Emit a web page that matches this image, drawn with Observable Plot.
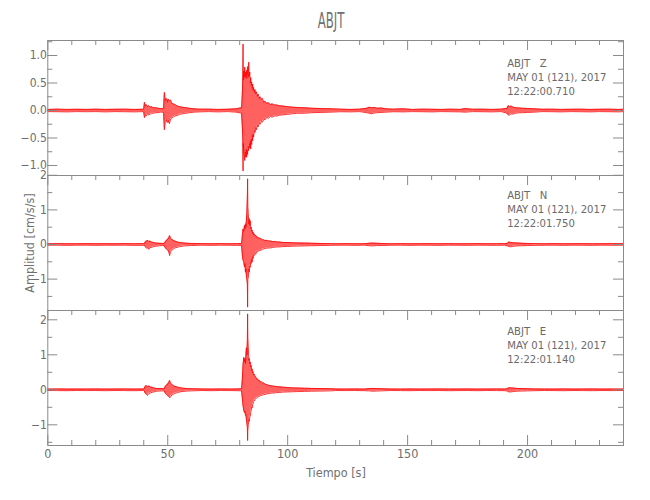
<!DOCTYPE html>
<html>
<head>
<meta charset="utf-8">
<script src="https://cdn.jsdelivr.net/npm/d3@7"></script>
<script src="https://cdn.jsdelivr.net/npm/@observablehq/plot@0.6"></script>
<style>
  body { margin: 0; background: #fff; }
  #wrap { position: relative; width: 650px; height: 500px; overflow: hidden; color: #707070;
          font-family: "Liberation Sans Narrow", "DejaVu Sans Condensed", sans-serif; }
  .panel { position: absolute; left: 0; }
  #title { position: absolute; left: 231px; width: 200px; top: 9px; text-align: center;
           font-size: 21px; transform: scaleX(0.62); }
  #xlab { position: absolute; left: 236px; width: 200px; top: 465px; text-align: center; font-size: 12.5px; }
  #ylab { position: absolute; left: 29px; top: 242.5px; font-size: 12.5px; white-space: nowrap;
          transform: translate(-50%, -50%) rotate(-90deg); }
</style>
</head>
<body>
<div id="wrap">
  <div id="title">ABJT</div>
  <div id="ylab">Amplitud [cm/s/s]</div>
  <div id="xlab">Tiempo [s]</div>
</div>
<script>
// ---------------- data ----------------
const station = "ABJT";
const components = ["Z", "N", "E"];
const dateLine = "MAY 01 (121), 2017";
const startTimes = ["12:22:00.710", "12:22:01.750", "12:22:01.140"];

const xMajorTicks = [0, 50, 100, 150, 200];
const xMinorTicks = [10, 20, 30, 40, 60, 70, 80, 90, 110, 120, 130, 140, 160, 170, 180, 190, 210, 220, 230];

// Z component (envelope: upper / lower amplitude, cm/s/s)
const zTime = [0, 4, 8, 12, 16, 20, 24, 28, 32, 36, 39.8,
  40.0, 40.3, 40.6, 41.0, 41.5, 42.0, 42.6, 43.2, 44.0, 45.0, 46.0, 47.0, 48.0,
  48.3, 48.6, 49.0, 49.4, 49.8, 50.2, 50.7, 51.2, 51.7, 52.3, 53.0, 54.0, 55.0, 56.0, 57.5, 59.0, 61.0, 63.0,
  67, 71, 75, 78.5,
  80.8, 81.1, 81.3, 81.4, 81.5, 81.7, 81.9, 82.1, 82.3, 82.5, 82.7, 82.9, 83.1, 83.3, 83.5, 83.75, 84.0, 84.2, 84.4, 84.6,
  84.8, 85.0, 85.2, 85.4, 85.6, 85.8, 86.1, 86.4, 86.7, 87.0, 87.3, 87.7, 88.1, 88.5, 89.0, 89.5, 90.0, 90.6, 91.2, 92.0,
  92.8, 93.6, 94.5, 95.5, 96.5, 98.0, 100.0, 102.0, 104.0, 107.0, 110.0, 114.0, 118.0,
  122, 126, 130,
  133.0, 134.0, 135.0, 136.0, 137.5, 139.0, 141.0,
  144, 148, 152, 156, 160, 164, 168, 172, 174, 177, 181, 185, 189,
  191.5, 192.0, 192.5, 193.2, 194.0, 195.0, 196.5, 198.0, 200.0, 203.0,
  206, 210, 214, 218, 222, 226, 230, 234, 238, 240];
const zHi = [0.02, 0.025, 0.02, 0.022, 0.02, 0.025, 0.02, 0.022, 0.025, 0.02, 0.022,
  0.03, 0.15, 0.08, 0.11, 0.07, 0.09, 0.06, 0.07, 0.05, 0.05, 0.04, 0.035, 0.03,
  0.05, 0.33, 0.18, 0.22, 0.15, 0.21, 0.17, 0.19, 0.13, 0.12, 0.11, 0.08, 0.07, 0.06, 0.05, 0.04, 0.03, 0.025,
  0.025, 0.02, 0.022, 0.03,
  0.05, 0.3, 0.6, 1.21, 0.55, 0.72, 0.6, 0.79, 0.62, 0.7, 0.58, 0.73, 0.65, 0.8, 0.6, 0.88, 0.62, 0.7, 0.5, 0.6,
  0.45, 0.52, 0.4, 0.48, 0.36, 0.42, 0.33, 0.38, 0.3, 0.34, 0.26, 0.3, 0.22, 0.25, 0.2, 0.22, 0.15, 0.17, 0.13, 0.14,
  0.11, 0.12, 0.1, 0.1, 0.085, 0.08, 0.07, 0.06, 0.055, 0.05, 0.04, 0.035, 0.03,
  0.025, 0.02, 0.025,
  0.04, 0.06, 0.05, 0.055, 0.04, 0.045, 0.03,
  0.025, 0.03, 0.02, 0.025, 0.022, 0.02, 0.025, 0.02, 0.035, 0.022, 0.025, 0.02, 0.025,
  0.04, 0.09, 0.07, 0.08, 0.06, 0.05, 0.045, 0.04, 0.035, 0.03,
  0.022, 0.025, 0.02, 0.022, 0.025, 0.02, 0.022, 0.025, 0.02, 0.022];
const zLo = [-0.02, -0.022, -0.025, -0.02, -0.022, -0.02, -0.025, -0.02, -0.022, -0.025, -0.02,
  -0.03, -0.13, -0.09, -0.10, -0.06, -0.08, -0.07, -0.05, -0.05, -0.04, -0.04, -0.03, -0.03,
  -0.05, -0.35, -0.20, -0.17, -0.22, -0.18, -0.24, -0.15, -0.14, -0.12, -0.10, -0.09, -0.07, -0.06, -0.05, -0.04, -0.03, -0.025,
  -0.02, -0.025, -0.02, -0.03,
  -0.05, -0.3, -0.5, -1.10, -0.6, -0.73, -0.8, -0.91, -0.75, -0.85, -0.7, -0.85, -0.72, -0.8, -0.65, -0.73, -0.6, -0.68, -0.55, -0.7,
  -0.52, -0.62, -0.45, -0.55, -0.42, -0.48, -0.36, -0.4, -0.31, -0.35, -0.27, -0.3, -0.23, -0.25, -0.2, -0.21, -0.16, -0.17, -0.13, -0.14,
  -0.11, -0.12, -0.1, -0.1, -0.085, -0.08, -0.07, -0.06, -0.05, -0.05, -0.04, -0.035, -0.03,
  -0.022, -0.025, -0.02,
  -0.04, -0.05, -0.06, -0.045, -0.04, -0.035, -0.03,
  -0.022, -0.025, -0.02, -0.022, -0.025, -0.02, -0.022, -0.025, -0.03, -0.02, -0.022, -0.025, -0.02,
  -0.05, -0.085, -0.08, -0.06, -0.065, -0.05, -0.04, -0.04, -0.035, -0.03,
  -0.02, -0.022, -0.025, -0.02, -0.022, -0.025, -0.02, -0.022, -0.025, -0.02];

// N component
const nTime = [0, 4, 8, 12, 16, 20, 24, 28, 32, 36, 40,
  40.3, 40.7, 41.2, 41.7, 42.1, 42.6, 43.2, 44.0, 45.0, 46.5, 48.0,
  48.5, 49.0, 49.5, 50.0, 50.5, 50.8, 51.2, 51.7, 52.3, 53.0, 54.0, 55.0, 56.5, 58.0, 60.0,
  64, 68, 72, 76, 79,
  80.8, 81.1, 81.4, 81.7, 82.0, 82.2, 82.4, 82.6, 82.8, 83.0, 83.2, 83.3, 83.4, 83.6, 83.8, 84.0, 84.2, 84.4, 84.6, 84.8,
  85.0, 85.2, 85.4, 85.6, 85.8, 86.1, 86.4, 86.7, 87.0, 87.3, 87.7, 88.1, 88.5, 89.0, 89.5, 90.0, 90.6, 91.2, 92.0, 92.8,
  93.6, 94.5, 95.5, 96.5, 98.0, 100.0, 102.0, 104.0, 107.0, 110.0, 114.0, 118.0,
  120, 124, 128, 132,
  134, 135.5, 137, 139,
  143, 147, 151, 155, 159, 163, 167, 171, 175, 179, 183, 187, 190.5,
  191.5, 192.2, 193.0, 194.0, 195.5, 197.5, 200, 203,
  207, 211, 215, 219, 223, 227, 231, 235, 240];
const nHi = [0.02, 0.025, 0.02, 0.02, 0.025, 0.02, 0.022, 0.02, 0.025, 0.02, 0.025,
  0.03, 0.08, 0.10, 0.12, 0.09, 0.10, 0.07, 0.06, 0.04, 0.035, 0.03,
  0.03, 0.08, 0.12, 0.15, 0.20, 0.26, 0.18, 0.15, 0.12, 0.10, 0.07, 0.06, 0.045, 0.035, 0.03,
  0.025, 0.02, 0.025, 0.02, 0.025,
  0.03, 0.25, 0.45, 0.38, 0.55, 0.45, 0.6, 0.5, 0.7, 0.9, 1.37, 1.9, 1.1, 0.89, 0.6, 0.75, 0.55, 0.69, 0.45, 0.5,
  0.38, 0.42, 0.32, 0.36, 0.28, 0.31, 0.24, 0.27, 0.21, 0.23, 0.18, 0.2, 0.16, 0.17, 0.13, 0.14, 0.11, 0.12, 0.1, 0.1,
  0.085, 0.09, 0.075, 0.07, 0.06, 0.055, 0.05, 0.045, 0.04, 0.035, 0.03, 0.025,
  0.02, 0.025, 0.02, 0.022,
  0.035, 0.04, 0.035, 0.03,
  0.02, 0.025, 0.02, 0.022, 0.025, 0.02, 0.025, 0.02, 0.022, 0.025, 0.02, 0.022, 0.025,
  0.03, 0.07, 0.06, 0.05, 0.045, 0.035, 0.03, 0.025,
  0.02, 0.025, 0.02, 0.022, 0.025, 0.02, 0.022, 0.025, 0.02];
const nLo = [-0.022, -0.02, -0.025, -0.02, -0.02, -0.025, -0.02, -0.022, -0.02, -0.025, -0.025,
  -0.03, -0.07, -0.11, -0.09, -0.14, -0.08, -0.09, -0.06, -0.05, -0.035, -0.03,
  -0.03, -0.10, -0.14, -0.16, -0.22, -0.32, -0.20, -0.17, -0.13, -0.10, -0.08, -0.06, -0.045, -0.035, -0.03,
  -0.02, -0.025, -0.02, -0.022, -0.025,
  -0.03, -0.3, -0.46, -0.5, -0.65, -0.55, -0.8, -0.7, -0.9, -1.0, -1.14, -1.81, -1.0, -0.94, -0.7, -0.8, -0.62, -0.66, -0.5, -0.55,
  -0.42, -0.51, -0.35, -0.4, -0.3, -0.32, -0.25, -0.28, -0.21, -0.22, -0.18, -0.19, -0.16, -0.17, -0.13, -0.13, -0.11, -0.11, -0.1, -0.1,
  -0.085, -0.08, -0.07, -0.07, -0.06, -0.055, -0.05, -0.045, -0.04, -0.035, -0.03, -0.025,
  -0.022, -0.02, -0.025, -0.02,
  -0.035, -0.04, -0.03, -0.03,
  -0.022, -0.02, -0.025, -0.02, -0.022, -0.025, -0.02, -0.022, -0.025, -0.02, -0.022, -0.025, -0.02,
  -0.04, -0.06, -0.065, -0.05, -0.04, -0.035, -0.03, -0.025,
  -0.022, -0.02, -0.025, -0.02, -0.022, -0.025, -0.02, -0.022, -0.02];

// E component
const eTime = [0, 4, 8, 12, 16, 20, 24, 28, 32, 36, 40,
  40.2, 40.6, 41.1, 41.6, 42.2, 42.8, 43.5, 44.3, 45.3, 46.5, 48.0,
  48.5, 49.0, 49.5, 50.0, 50.4, 50.8, 51.2, 51.7, 52.3, 53.0, 54.0, 55.0, 56.5, 58.0, 60.0,
  64, 68, 72, 76, 79,
  80.8, 81.1, 81.4, 81.7, 82.0, 82.2, 82.4, 82.6, 82.8, 83.0, 83.2, 83.3, 83.4, 83.6, 83.8, 84.0, 84.2, 84.4, 84.6, 84.8,
  85.0, 85.2, 85.4, 85.6, 85.8, 86.1, 86.4, 86.7, 87.0, 87.3, 87.7, 88.1, 88.5, 89.0, 89.5, 90.0, 90.6, 91.2, 92.0, 92.8,
  93.6, 94.5, 95.5, 96.5, 98.0, 100.0, 102.0, 104.0, 107.0, 110.0, 114.0, 118.0,
  120, 124, 128, 132,
  134, 135.5, 137, 139,
  143, 147, 151, 155, 159, 163, 167, 171, 175, 179, 183, 187, 190.5,
  191.5, 192.2, 193.0, 194.0, 195.5, 197.5, 200, 203,
  207, 211, 215, 219, 223, 227, 231, 235, 240];
const eHi = [0.02, 0.025, 0.02, 0.022, 0.02, 0.025, 0.02, 0.022, 0.025, 0.02, 0.025,
  0.03, 0.10, 0.12, 0.09, 0.11, 0.08, 0.07, 0.05, 0.04, 0.035, 0.03,
  0.03, 0.10, 0.13, 0.17, 0.20, 0.27, 0.18, 0.16, 0.12, 0.10, 0.08, 0.06, 0.045, 0.035, 0.03,
  0.025, 0.02, 0.025, 0.02, 0.025,
  0.03, 0.3, 0.7, 0.93, 0.8, 0.9, 0.75, 1.0, 1.2, 1.0, 1.41, 2.17, 1.5, 1.2, 0.84, 0.9, 0.74, 0.8, 0.65, 0.7,
  0.55, 0.6, 0.48, 0.52, 0.42, 0.45, 0.36, 0.38, 0.3, 0.32, 0.27, 0.28, 0.22, 0.24, 0.19, 0.2, 0.16, 0.15, 0.13, 0.12,
  0.11, 0.1, 0.09, 0.085, 0.075, 0.065, 0.055, 0.05, 0.045, 0.04, 0.035, 0.03,
  0.022, 0.02, 0.025, 0.02,
  0.035, 0.04, 0.035, 0.03,
  0.022, 0.02, 0.025, 0.02, 0.022, 0.025, 0.02, 0.022, 0.025, 0.02, 0.022, 0.025, 0.02,
  0.03, 0.06, 0.055, 0.05, 0.04, 0.035, 0.03, 0.025,
  0.022, 0.02, 0.025, 0.02, 0.022, 0.025, 0.02, 0.022, 0.02];
const eLo = [-0.02, -0.022, -0.025, -0.02, -0.022, -0.02, -0.025, -0.02, -0.022, -0.025, -0.02,
  -0.03, -0.10, -0.13, -0.16, -0.10, -0.09, -0.07, -0.06, -0.04, -0.035, -0.03,
  -0.03, -0.10, -0.14, -0.17, -0.19, -0.23, -0.20, -0.15, -0.13, -0.10, -0.08, -0.06, -0.045, -0.035, -0.03,
  -0.02, -0.025, -0.02, -0.022, -0.025,
  -0.03, -0.25, -0.45, -0.59, -0.65, -0.6, -0.73, -0.7, -0.85, -0.95, -1.07, -1.45, -1.16, -1.0, -0.85, -0.9, -0.78, -0.75, -0.65, -0.59,
  -0.5, -0.52, -0.42, -0.4, -0.34, -0.32, -0.28, -0.26, -0.23, -0.22, -0.2, -0.19, -0.17, -0.16, -0.15, -0.14, -0.13, -0.12, -0.11, -0.1,
  -0.09, -0.09, -0.08, -0.075, -0.065, -0.06, -0.055, -0.05, -0.045, -0.04, -0.035, -0.03,
  -0.02, -0.022, -0.02, -0.025,
  -0.03, -0.04, -0.035, -0.03,
  -0.02, -0.022, -0.025, -0.02, -0.022, -0.02, -0.025, -0.022, -0.02, -0.025, -0.02, -0.022, -0.025,
  -0.035, -0.06, -0.06, -0.05, -0.04, -0.035, -0.03, -0.025,
  -0.02, -0.022, -0.025, -0.02, -0.022, -0.025, -0.02, -0.022, -0.02];

// y ranges and ticks per panel
const zDomain = [-1.182, 1.273], nDomain = [-1.907, 1.994], eDomain = [-1.591, 2.266];
const zMajor = [-1.0, -0.5, 0.0, 0.5, 1.0], zMinor = [-0.75, -0.25, 0.25, 0.75, 1.25];
const nMajor = [-1, 0, 1, 2], nMinor = [-1.5, -0.5, 0.5, 1.5];
const eMajor = [-1, 0, 1, 2], eMinor = [-1.5, -0.5, 0.5, 1.5];

// ---------------- drawing ----------------
const RED = "#ff0000", AX = "#8a8a8a";
const FH = 135, ML = 47.3, MR = 27, FW = 650 - ML - MR;
const rowsOf = (t, hi, lo) => t.map((v, i) => ({t: v, hi: hi[i], lo: lo[i]}));

function panel({rows, domain, major, minor, fmt, comp, time, frameTop, bottom, textDy}) {
  const mt = 12, mb = bottom ? 34 : 10;
  const marks = [
    Plot.areaY(rows, {x: "t", y1: "lo", y2: "hi", fill: RED, fillOpacity: 0.62, curve: "linear"}),
    Plot.line(rows, {x: "t", y: "hi", stroke: RED, strokeWidth: 0.8}),
    Plot.line(rows, {x: "t", y: "lo", stroke: RED, strokeWidth: 0.8}),
    Plot.frame({stroke: AX}),
    Plot.tickX(xMajorTicks, {x: d => d, insetBottom: FH - 10, stroke: AX}),
    Plot.tickX(xMinorTicks, {x: d => d, insetBottom: FH - 5, stroke: AX}),
    Plot.tickY(major, {y: d => d, insetRight: FW - 10, stroke: AX}),
    Plot.tickY(minor, {y: d => d, insetRight: FW - 5, stroke: AX}),
    Plot.tickY(major, {y: d => d, insetLeft: FW - 10, stroke: AX}),
    Plot.tickY(minor, {y: d => d, insetLeft: FW - 5, stroke: AX}),
    Plot.axisY({ticks: major, tickSize: 0, tickPadding: 1, tickFormat: fmt, label: null, fontSize: 12}),
    Plot.text([`${station}\u00a0\u00a0\u00a0${comp}\n${dateLine}\n${time}`], {
      frameAnchor: "top-left", dx: 459.4, dy: textDy, textAnchor: "start", lineAnchor: "top",
      lineHeight: 1.25, fontSize: 11.2, fontFamily: "DejaVu Sans Condensed", fill: "#6a6a6a"})
  ];
  if (bottom) {
    marks.push(
      Plot.tickX(xMajorTicks, {x: d => d, insetTop: FH - 10, stroke: AX}),
      Plot.tickX(xMinorTicks, {x: d => d, insetTop: FH - 5, stroke: AX}),
      Plot.axisX({ticks: xMajorTicks, tickSize: 0, tickPadding: 4, label: null, fontSize: 12.5})
    );
  }
  const svg = Plot.plot({
    width: 650, height: FH + mt + mb,
    marginTop: mt, marginBottom: mb, marginLeft: ML, marginRight: MR,
    x: {domain: [0, 240], axis: bottom ? undefined : null},
    y: {domain},
    style: {background: "transparent", overflow: "visible", color: "#6e6e6e",
            fontFamily: '"Liberation Sans Narrow", "DejaVu Sans Condensed", sans-serif'},
    marks
  });
  const div = document.createElement("div");
  div.className = "panel";
  div.style.top = (frameTop - mt) + "px";
  div.appendChild(svg);
  document.getElementById("wrap").appendChild(div);
}

const f1 = d3.format(".1f"), f0 = d3.format("d");
panel({rows: rowsOf(zTime, zHi, zLo), domain: zDomain, major: zMajor, minor: zMinor, fmt: f1,
       comp: components[0], time: startTimes[0], frameTop: 40, bottom: false, textDy: 17});
panel({rows: rowsOf(nTime, nHi, nLo), domain: nDomain, major: nMajor, minor: nMinor, fmt: f0,
       comp: components[1], time: startTimes[1], frameTop: 175, bottom: false, textDy: 14});
panel({rows: rowsOf(eTime, eHi, eLo), domain: eDomain, major: eMajor, minor: eMinor, fmt: f0,
       comp: components[2], time: startTimes[2], frameTop: 310, bottom: true, textDy: 15});
</script>
</body>
</html>
